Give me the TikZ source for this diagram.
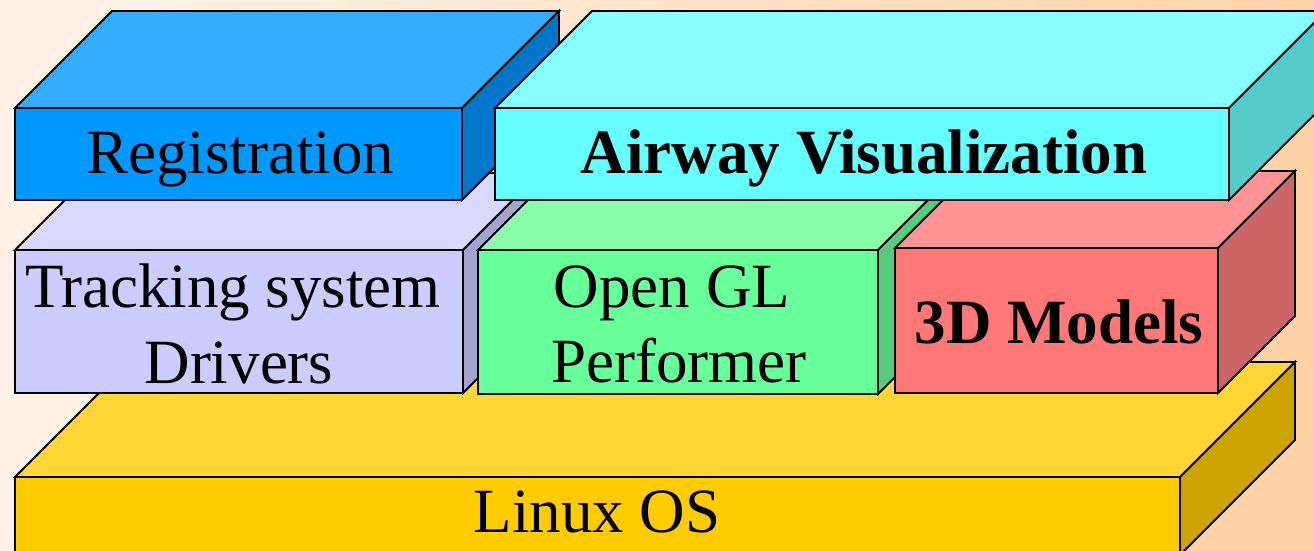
\documentclass[tikz,border=0pt]{standalone}
\usepackage{fontspec}
\setmainfont{Liberation Serif}
\usetikzlibrary{calc}
\definecolor{bgA}{HTML}{FFF1E6}
\definecolor{bgB}{HTML}{FFD2A6}
\definecolor{regF}{HTML}{0099FF}\definecolor{regT}{HTML}{33ADFF}\definecolor{regS}{HTML}{0077CC}
\definecolor{airF}{HTML}{66FFFF}\definecolor{airT}{HTML}{88FFFF}\definecolor{airS}{HTML}{55CCCC}
\definecolor{trkF}{HTML}{CCCCFF}\definecolor{trkT}{HTML}{D8D8FF}\definecolor{trkS}{HTML}{A3A3CC}
\definecolor{oglF}{HTML}{66FF99}\definecolor{oglT}{HTML}{88FFAA}\definecolor{oglS}{HTML}{55CC7A}
\definecolor{mdlF}{HTML}{FF7878}\definecolor{mdlT}{HTML}{FF9396}\definecolor{mdlS}{HTML}{CC6666}
\definecolor{linF}{HTML}{FFCC00}\definecolor{linT}{HTML}{FFD633}\definecolor{linS}{HTML}{CCA300}
\newcommand\boxfaces[4]{%
  \filldraw[face, fill=#3] (#1.north west) -- ++(#2,-#2) -- ([shift={(#2,-#2)}]#1.north east) -- (#1.north east) -- cycle;
  \filldraw[face, fill=#4] (#1.north east) -- ++(#2,-#2) -- ([shift={(#2,-#2)}]#1.south east) -- (#1.south east) -- cycle;
}
\tikzset{
  face/.style={draw=black, line width=1.8pt},
  front/.style={rectangle, draw=black, line width=1.8pt, inner sep=0pt, outer sep=0pt, anchor=north west},
  lbl/.style={anchor=base, inner sep=0pt, font=\fontsize{63}{76}\selectfont},
  blbl/.style={lbl, font=\fontsize{63}{76}\selectfont\bfseries},
}
\begin{document}
\begin{tikzpicture}[x=1pt, y=-1pt]
\useasboundingbox (0,0) rectangle (1314,551);
\clip (0,0) rectangle (1314,551);
\shade[left color=bgA, right color=bgB, shading angle=75] (0,0) rectangle (1314,551);
% Linux OS
\node[front, fill=linF, minimum width=1165pt, minimum height=78pt] (lin) at (15,477) {};
\boxfaces{lin}{115}{linT}{linS}
% Tracking system drivers
\node[front, fill=trkF, minimum width=448pt, minimum height=143pt] (trk) at (15,250) {};
\boxfaces{trk}{77}{trkT}{trkS}
% Open GL Performer
\node[front, fill=oglF, minimum width=400pt, minimum height=144pt] (ogl) at (478,250) {};
\boxfaces{ogl}{77}{oglT}{oglS}
% 3D Models
\node[front, fill=mdlF, minimum width=323pt, minimum height=145pt] (mdl) at (895,248) {};
\boxfaces{mdl}{77}{mdlT}{mdlS}
% Registration
\node[front, fill=regF, minimum width=447pt, minimum height=92pt] (reg) at (15,108) {};
\boxfaces{reg}{97}{regT}{regS}
% Airway Visualization
\node[front, fill=airF, minimum width=734pt, minimum height=92pt] (air) at (495,108) {};
\boxfaces{air}{97}{airT}{airS}
% labels
\node[lbl] (regt) at (240,173) {Registration};
\node[blbl] (airt) at (864,173) {Airway Visualization};
\node[lbl] (trkt1) at (233,307) {Tracking system};
\node[lbl] (trkt2) at (239,383) {Drivers};
\node[lbl] (oglt1) at (672,307) {Open GL};
\node[lbl] (oglt2) at (679,382) {Performer};
\node[blbl] (mdlt) at (1059,343) {3D Models};
\node[lbl] (lint) at (597,532) {Linux OS};
\end{tikzpicture}
\end{document}
